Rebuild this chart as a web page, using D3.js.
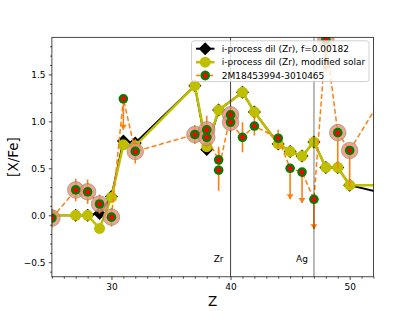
<!DOCTYPE html>
<html><head><meta charset="utf-8">
<script src="https://cdn.jsdelivr.net/npm/d3@7"></script>
<style>body{margin:0;background:#fff}svg{display:block;font-family:"DejaVu Sans",sans-serif}</style>
</head><body><svg id="c" width="415" height="311"></svg>
<script>
// ---- data ----
const modelZ     = [25, 27, 28, 29, 30, 31, 32, 37, 38, 39, 41, 42, 44, 45, 46, 47, 48, 49, 50, 56];
const modelF     = [0.0, 0.0, 0.0, 0.02, 0.20, 0.79, 0.77, 1.38, 0.70, 1.12, 1.31, 1.10, 0.76, 0.68, 0.63, 0.78, 0.51, 0.51, 0.32, 0.14];
const modelSolar = [0.0, 0.0, 0.0, -0.14, 0.19, 0.75, 0.74, 1.38, 0.73, 1.12, 1.31, 1.10, 0.76, 0.68, 0.63, 0.78, 0.51, 0.51, 0.32, 0.32];
const obsZ       = [25, 27, 28, 29, 30, 31, 32, 37, 38, 38, 39, 39, 40, 40, 41, 42, 44, 45, 46, 47, 48, 49, 50, 56];
const obsVal     = [-0.03, 0.27, 0.25, 0.12, -0.02, 1.24, 0.68, 0.86, 0.91, 0.83, 0.59, 0.48, 1.07, 0.99, 0.83, 0.95, 0.82, 0.50, 0.46, 0.17, 1.87, 0.88, 0.69, 1.93];
const obsErrLo   = [0.10, 0.12, 0.13, 0.10, 0.10, 0.33, 0.13, 0.10, 0.15, 0.10, 0.14, 0.22, 0.10, 0.10, 0.16, 0.10, 0.09, 0.33, 0.33, 0.32, 0.34, 0.38, 0.39, 0];
const obsErrHi   = [0.10, 0.12, 0.13, 0.10, 0.10, 0, 0.13, 0.10, 0.15, 0.10, 0.14, 0.22, 0.10, 0.10, 0.16, 0.10, 0.09, 0, 0, 0, 0, 0, 0, 0];
const obsUpLim   = [0, 0, 0, 0, 0, 1, 0, 0, 0, 0, 0, 0, 0, 0, 0, 0, 0, 1, 1, 1, 1, 0, 0, 0];
const obsHalo    = [1, 1, 1, 1, 1, 0, 1, 1, 1, 1, 0, 0, 1, 1, 0, 0, 0, 0, 0, 0, 1, 1, 1, 0];
const xTicks = [30, 40, 50];
const yTicks = [-0.5, 0.0, 0.5, 1.0, 1.5];
const markLines = [{z: 40, label: "Zr"}, {z: 47, label: "Ag"}];
const legendLabels = ["i-process dil (Zr), f=0.00182", "i-process dil (Zr), modified solar", "2M18453994-3010465"];

// ---- layout ----
const svg = d3.select("#c");
const L = 51.9, R = 373.5, T = 37.3, B = 276.8;
const x = d3.scaleLinear().domain([25, 52]).range([L, R]);
const y = d3.scaleLinear().domain([-0.655, 1.895]).range([B, T]);
const ORANGE = "#ff7f0e", YEL = "#bfbf00";

svg.append("defs").append("clipPath").attr("id", "clip")
  .append("rect").attr("x", L).attr("y", T).attr("width", R - L).attr("height", B - T);
const g = svg.append("g").attr("clip-path", "url(#clip)");

const fmt = d => (d < 0 ? "\u2212" : "") + Math.abs(d).toFixed(1);

// axes
const xAxis = d3.axisBottom(x).tickValues(xTicks).tickFormat(d3.format("d")).tickSize(3.15).tickPadding(3.2);
const xMinor = d3.axisBottom(x).tickValues(d3.range(25, 53, 1).filter(v => !xTicks.includes(v))).tickFormat("").tickSize(1.8);
const yAxis = d3.axisLeft(y).tickValues(yTicks).tickFormat(fmt).tickSize(3.15).tickPadding(3.2);
const yMinor = d3.axisLeft(y).tickValues(d3.range(-6, 19, 1).map(v => v / 10).filter(v => !yTicks.some(t => Math.abs(t - v) < 1e-9))).tickFormat("").tickSize(1.8);
function styleAxis(sel) {
  sel.select(".domain").remove();
  sel.selectAll("line").attr("stroke", "#000").attr("stroke-width", 0.72);
  sel.selectAll("text").attr("font-size", 9).attr("fill", "#000").attr("font-family", "DejaVu Sans");
}
svg.append("g").attr("transform", `translate(0,${B})`).call(xAxis).call(styleAxis);
svg.append("g").attr("transform", `translate(0,${B})`).call(xMinor).call(styleAxis);
svg.append("g").attr("transform", `translate(${L},0)`).call(yAxis).call(styleAxis);
svg.append("g").attr("transform", `translate(${L},0)`).call(yMinor).call(styleAxis);

// model lines
const lineGen = d3.line().x(d => x(d[0])).y(d => y(d[1]));
const fPts = modelZ.map((z, i) => [z, modelF[i]]);
const sPts = modelZ.map((z, i) => [z, modelSolar[i]]);
g.append("path").attr("d", lineGen(fPts)).attr("fill", "none").attr("stroke", "#000").attr("stroke-width", 2);
const diamond = (cx, cy, r) => `M${cx},${cy - r}L${cx + r},${cy}L${cx},${cy + r}L${cx - r},${cy}Z`;
g.selectAll(".dia").data(fPts).enter().append("path")
  .attr("d", d => diamond(x(d[0]), y(d[1]), 6.5)).attr("fill", "#000");
g.append("path").attr("d", lineGen(sPts)).attr("fill", "none").attr("stroke", YEL).attr("stroke-width", 2.5);
g.selectAll(".yc").data(sPts).enter().append("circle")
  .attr("cx", d => x(d[0])).attr("cy", d => y(d[1])).attr("r", 5.5).attr("fill", YEL);

// observed
const oPts = obsZ.map((z, i) => ({z, v: obsVal[i], lo: obsErrLo[i], hi: obsErrHi[i], ul: obsUpLim[i], halo: obsHalo[i]}));
g.append("path").attr("d", lineGen(oPts.map(d => [d.z, d.v]))).attr("fill", "none")
  .attr("stroke", ORANGE).attr("stroke-width", 1.5).attr("stroke-dasharray", "5,2.6");
oPts.forEach(d => {
  if (d.lo + d.hi > 0) {
    g.append("line").attr("x1", x(d.z)).attr("x2", x(d.z)).attr("y1", y(d.v + d.hi)).attr("y2", y(d.v - d.lo))
      .attr("stroke", ORANGE).attr("stroke-width", 1.6);
  }
  if (d.ul) {
    const cx = x(d.z), cy = y(d.v - d.lo);
    g.append("path").attr("d", `M${cx - 3.5},${cy - 5}L${cx + 3.5},${cy - 5}L${cx},${cy}Z`).attr("fill", ORANGE);
  }
});

// reference lines
markLines.forEach(m => {
  g.append("line").attr("x1", x(m.z)).attr("x2", x(m.z)).attr("y1", T).attr("y2", B)
    .attr("stroke", "#000").attr("stroke-opacity", m.z === 47 ? 0.3 : 0.85).attr("stroke-width", m.z === 47 ? 1.8 : 0.9);
  svg.append("text").attr("x", x(m.z - 1)).attr("y", y(-0.5)).attr("text-anchor", "middle")
    .attr("font-size", 9).text(m.label);
});

// observed markers
g.selectAll(".halo").data(oPts.filter(d => d.halo)).enter().append("circle")
  .attr("cx", d => x(d.z)).attr("cy", d => y(d.v)).attr("r", 8.3)
  .attr("fill", "#f08a7a").attr("fill-opacity", 0.8).attr("stroke", "#4a9a4a").attr("stroke-opacity", 0.5).attr("stroke-width", 1);
g.selectAll(".og").data(oPts).enter().append("circle")
  .attr("cx", d => x(d.z)).attr("cy", d => y(d.v)).attr("r", 4.8).attr("fill", "#008000");
g.selectAll(".or").data(oPts).enter().append("circle")
  .attr("cx", d => x(d.z)).attr("cy", d => y(d.v)).attr("r", 2.5).attr("fill", "#ff0000");

// frame
svg.append("rect").attr("x", L).attr("y", T).attr("width", R - L).attr("height", B - T)
  .attr("fill", "none").attr("stroke", "#000").attr("stroke-width", 0.72);

// axis labels
svg.append("text").attr("x", (L + R) / 2).attr("y", 305.5).attr("text-anchor", "middle").attr("font-size", 13.5).text("Z");
svg.append("text").attr("transform", `translate(17.5,${(T + B) / 2}) rotate(-90)`).attr("text-anchor", "middle")
  .attr("font-size", 13.5).text("[X/Fe]");

// legend
const lg = svg.append("g");
lg.append("rect").attr("x", 191.5).attr("y", 40.8).attr("width", 177.5).attr("height", 40.8).attr("rx", 2.5)
  .attr("fill", "#fff").attr("fill-opacity", 0.8).attr("stroke", "#ccc").attr("stroke-width", 0.9);
const rowsY = [48.7, 62.2, 75.5];
const hx0 = 196, hx1 = 214.5, hxc = 205.2;
// row 1
lg.append("line").attr("x1", hx0).attr("x2", hx1).attr("y1", rowsY[0]).attr("y2", rowsY[0]).attr("stroke", "#000").attr("stroke-width", 2);
lg.append("path").attr("d", diamond(hxc, rowsY[0], 6.5)).attr("fill", "#000");
// row 2
lg.append("line").attr("x1", hx0).attr("x2", hx1).attr("y1", rowsY[1]).attr("y2", rowsY[1]).attr("stroke", YEL).attr("stroke-width", 2.5);
lg.append("circle").attr("cx", hxc).attr("cy", rowsY[1]).attr("r", 5.5).attr("fill", YEL);
// row 3
lg.append("line").attr("x1", hx0).attr("x2", hx1).attr("y1", rowsY[2]).attr("y2", rowsY[2]).attr("stroke", ORANGE).attr("stroke-width", 1.5).attr("stroke-dasharray", "4,2.5");
lg.append("line").attr("x1", hxc).attr("x2", hxc).attr("y1", rowsY[2] - 5).attr("y2", rowsY[2] + 5).attr("stroke", ORANGE).attr("stroke-width", 1.6);
lg.append("circle").attr("cx", hxc).attr("cy", rowsY[2]).attr("r", 4.8).attr("fill", "#008000");
lg.append("circle").attr("cx", hxc).attr("cy", rowsY[2]).attr("r", 2.5).attr("fill", "#ff0000");
legendLabels.forEach((t, i) => {
  lg.append("text").attr("x", 221.7).attr("y", rowsY[i] + 3.2).attr("font-size", 9).text(t);
});
</script></body></html>
